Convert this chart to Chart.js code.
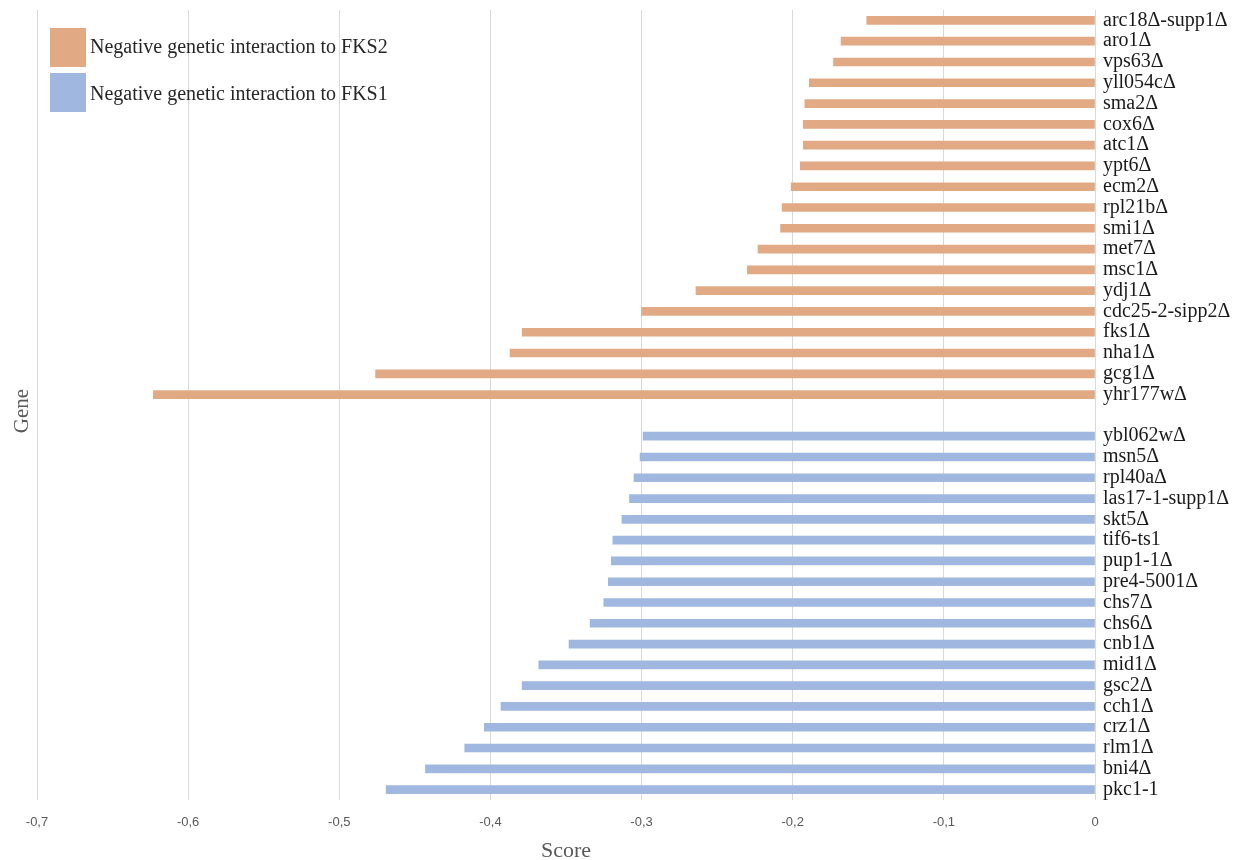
<!DOCTYPE html>
<html>
<head>
<meta charset="utf-8">
<script src="https://cdn.jsdelivr.net/npm/chart.js@4.4.1/dist/chart.umd.min.js"></script>
<style>
  body { margin: 0; background: #fff; }
  canvas { display: block; }
</style>
</head>
<body>
<canvas id="chartCanvas" width="1255" height="860"></canvas>
<script>
// genes de FKS2 (haut) et FKS1 (bas), du haut vers le bas
const fks2Genes = ['arc18Δ-supp1Δ', 'aro1Δ', 'vps63Δ', 'yll054cΔ', 'sma2Δ', 'cox6Δ', 'atc1Δ', 'ypt6Δ',
    'ecm2Δ', 'rpl21bΔ', 'smi1Δ', 'met7Δ', 'msc1Δ', 'ydj1Δ', 'cdc25-2-sipp2Δ', 'fks1Δ', 'nha1Δ',
    'gcg1Δ', 'yhr177wΔ'];
const fks2Scores = [-0.151, -0.168, -0.173, -0.189, -0.192, -0.193, -0.193, -0.195,
    -0.201, -0.207, -0.208, -0.223, -0.230, -0.264, -0.300, -0.379, -0.387,
    -0.476, -0.623];

const fks1Genes = ['ybl062wΔ', 'msn5Δ', 'rpl40aΔ', 'las17-1-supp1Δ', 'skt5Δ', 'tif6-ts1', 'pup1-1Δ',
    'pre4-5001Δ', 'chs7Δ', 'chs6Δ', 'cnb1Δ', 'mid1Δ', 'gsc2Δ', 'cch1Δ', 'crz1Δ', 'rlm1Δ',
    'bni4Δ', 'pkc1-1'];
const fks1Scores = [-0.299, -0.301, -0.305, -0.308, -0.313, -0.319, -0.320,
    -0.322, -0.325, -0.334, -0.348, -0.368, -0.379, -0.393, -0.404, -0.417,
    -0.443, -0.469];

const xTicks = [-0.7, -0.6, -0.5, -0.4, -0.3, -0.2, -0.1, 0];

// une ligne vide entre les deux groupes
const labels = [...fks2Genes, '', ...fks1Genes];
const fks2Data = [...fks2Scores, null, ...fks1Genes.map(() => null)];
const fks1Data = [...fks2Genes.map(() => null), null, ...fks1Scores];

const orange = 'rgb(226, 170, 132)';
const bleu = 'rgb(160, 184, 224)';

// legende dans la zone du graphique + titre "Gene" a gauche
const legendeInterne = {
    id: 'legendeInterne',
    afterDraw(chart) {
        const ctx = chart.ctx;
        ctx.save();
        chart.data.datasets.forEach((ds, i) => {
            const y = 28 + i * 45;
            ctx.fillStyle = ds.backgroundColor;
            ctx.fillRect(50, y, 36, 39);
            ctx.fillStyle = '#262626';
            ctx.font = '20px "Liberation Serif"';
            ctx.textBaseline = 'middle';
            ctx.textAlign = 'left';
            ctx.fillText(ds.label, 90, y + 20 + i * 2);
        });
        ctx.translate(22, 411);
        ctx.rotate(-Math.PI / 2);
        ctx.fillStyle = '#595959';
        ctx.font = '21px "Liberation Serif"';
        ctx.textAlign = 'center';
        ctx.textBaseline = 'middle';
        ctx.fillText('Gene', 0, 0);
        ctx.restore();
    }
};

const ctx = document.getElementById('chartCanvas').getContext('2d');
new Chart(ctx, {
    type: 'bar',
    data: {
        labels: labels,
        datasets: [{
            label: 'Negative genetic interaction to FKS2',
            data: fks2Data,
            backgroundColor: orange,
            barThickness: 8,
            grouped: false
        }, {
            label: 'Negative genetic interaction to FKS1',
            data: fks1Data,
            backgroundColor: bleu,
            barThickness: 8,
            grouped: false
        }]
    },
    options: {
        indexAxis: 'y',
        responsive: false,
        animation: false,
        devicePixelRatio: 1,
        layout: { padding: { left: 37, top: 0, right: 0, bottom: 0 } },
        plugins: {
            legend: { display: false },
            tooltip: { enabled: false }
        },
        scales: {
            x: {
                min: -0.7,
                max: 0,
                afterBuildTicks: s => { s.ticks = xTicks.map(v => ({ value: v })); },
                afterFit: s => { s.height = 60; },
                grid: { color: '#d9d9d9', drawTicks: false },
                border: { display: false },
                ticks: {
                    padding: 15,
                    color: '#595959',
                    font: { family: 'Liberation Sans', size: 13 },
                    callback: v => String(Math.round(v * 10) / 10).replace('.', ',')
                },
                title: {
                    display: true,
                    text: 'Score',
                    color: '#595959',
                    font: { family: 'Liberation Serif', size: 22 },
                    padding: { top: 0, bottom: -4 }
                }
            },
            y: {
                position: 'right',
                afterFit: s => { s.width = 160; s.paddingTop = 10; s.paddingBottom = 0; },
                grid: { display: false, drawTicks: false },
                border: { display: false },
                ticks: {
                    autoSkip: false,
                    padding: 8,
                    color: '#1a1a1a',
                    font: { family: 'Liberation Serif', size: 20 }
                }
            }
        }
    },
    plugins: [legendeInterne]
});
</script>
</body>
</html>
